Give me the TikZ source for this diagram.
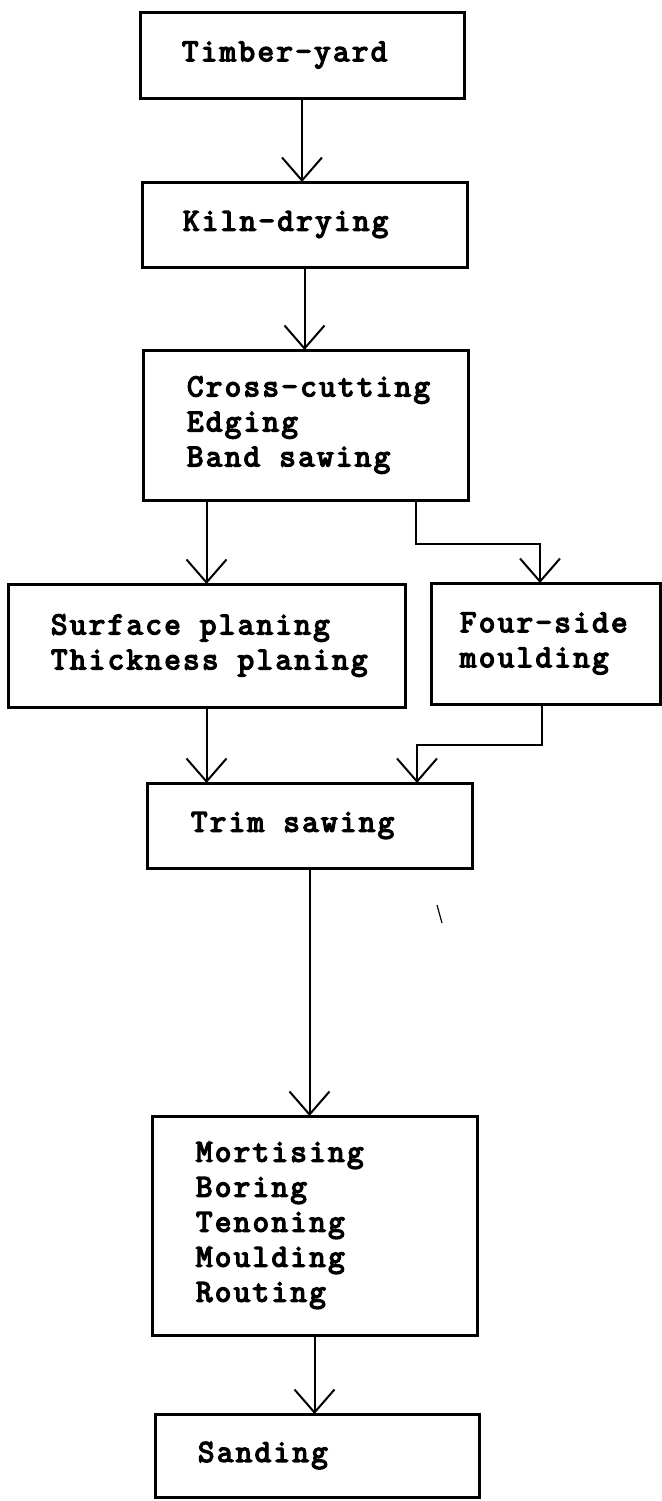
\documentclass[tikz,border=0pt]{standalone}
\usepackage{fontspec}
\setmonofont{Latin Modern Mono}[LetterSpace=7.5,
  BoldFont={Latin Modern Mono},BoldFeatures={FakeBold=4.5,LetterSpace=7.5}]
\newcommand\tws{\kern9.6pt\relax}
\usetikzlibrary{arrows.meta}
\begin{document}
\begin{tikzpicture}[x=0.5pt,y=-0.5pt,
  box/.style={draw, line width=1.5pt, align=left, outer sep=0pt, inner ysep=0pt,
    font=\ttfamily\bfseries\fontsize{16}{17.5}\selectfont},
  conn/.style={line width=1pt, -{Straight Barb[length=11.5pt,width=20pt]}},
]
\useasboundingbox (0,0) rectangle (661,1501);

\node[box, minimum height=43pt, inner xsep=21pt, text width=120pt] (timber) at (302,55)
  {\mbox{Timber-yard}};
\node[box, minimum height=42.5pt, inner xsep=20.5pt, text width=121.5pt] (kiln) at (304.5,224.5)
  {\mbox{Kiln-drying}};
\node[box, minimum height=75pt, inner xsep=22pt, text width=118.5pt] (cross) at (305.5,425)
  {\mbox{Cross-cutting}\\\mbox{Edging}\\\mbox{Band\tws sawing}};
\node[box, minimum height=61.5pt, inner xsep=21.5pt, text width=155.5pt] (surface) at (206.5,645.5)
  {\mbox{Surface\tws planing}\\\mbox{Thickness\tws planing}};
\node[box, minimum height=60.5pt, inner xsep=14.5pt, text width=85.5pt] (four) at (545.5,643.5)
  {\mbox{Four-side}\\\mbox{moulding}};
\node[box, minimum height=42.5pt, inner xsep=22pt, text width=118.5pt] (trim) at (309.5,825.5)
  {\mbox{Trim\tws sawing}};
\node[box, minimum height=109.5pt, inner xsep=22pt, text width=118.5pt] (mort) at (314.5,1225.5)
  {\mbox{Mortising}\\\mbox{Boring}\\\mbox{Tenoning}\\\mbox{Moulding}\\\mbox{Routing}};
\node[box, minimum height=41.5pt, inner xsep=21.5pt, text width=119pt] (sand) at (317,1455.5)
  {\mbox{Sanding}};

\coordinate (j1) at (416,544);
\coordinate (j2) at (540,544);
\coordinate (j3) at (542,745);
\coordinate (j4) at (417,745);

\draw[conn] (timber.south) -- (timber.south |- kiln.north);
\draw[conn] (kiln.south) -- (kiln.south |- cross.north);
\draw[conn] (surface.north |- cross.south) -- (surface.north);
\draw[conn] (j1 |- cross.south) -- (j1) -- (j2) -- (j2 |- four.north);
\draw[conn] (surface.south) -- (surface.south |- trim.north);
\draw[conn] (j3 |- four.south) -- (j3) -- (j4) -- (j4 |- trim.north);
\draw[conn] (trim.south) -- (trim.south |- mort.north);
\draw[conn] (mort.south) -- (mort.south |- sand.north);

\draw[line width=0.6pt] (437,905) -- (442,923);
\end{tikzpicture}
\end{document}
